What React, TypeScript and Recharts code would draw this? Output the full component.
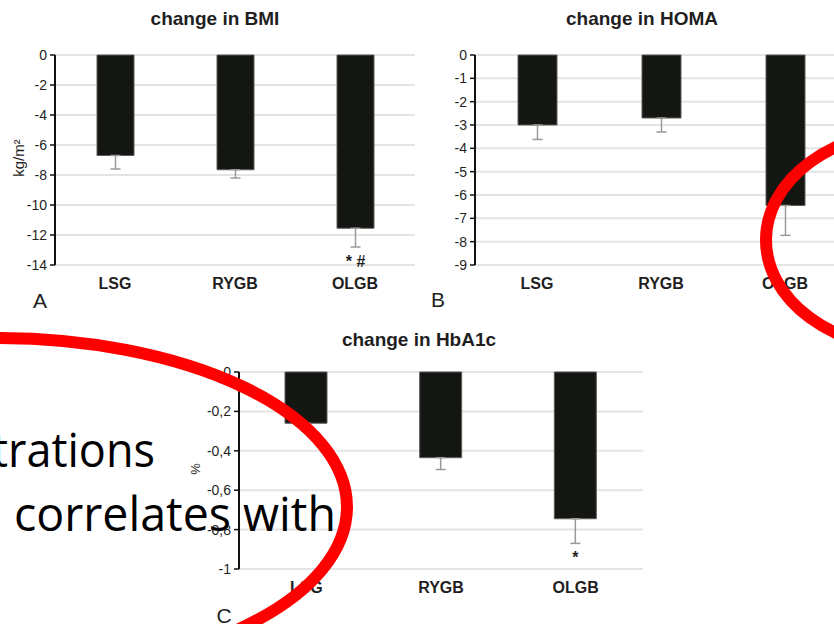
import { Bar, BarChart, CartesianGrid, ErrorBar, LabelList, XAxis, YAxis } from 'recharts';

const CATEGORIES = ['LSG', 'RYGB', 'OLGB'];

// change in BMI (kg/m2)
const BMI_MEAN = [-6.7, -7.65, -11.55];
const BMI_SD = [0.9, 0.55, 1.25];
const BMI_MARKS = ['', '', '* #'];
const BMI_TICKS = [0, -2, -4, -6, -8, -10, -12, -14];

// change in HOMA
const HOMA_MEAN = [-3.0, -2.7, -6.45];
const HOMA_SD = [0.62, 0.6, 1.28];
const HOMA_MARKS = ['', '', ''];
const HOMA_TICKS = [0, -1, -2, -3, -4, -5, -6, -7, -8, -9];

// change in HbA1c (%)
const HBA1C_MEAN = [-0.26, -0.435, -0.745];
const HBA1C_SD = [0.04, 0.06, 0.125];
const HBA1C_MARKS = ['', '', '*'];
const HBA1C_TICKS = [0, -0.2, -0.4, -0.6, -0.8, -1];

const FONT = '"Liberation Sans", Arial, sans-serif';
const INK = '#1f1f1f';

interface PanelProps {
  left: number;
  top: number;
  width: number;
  height: number;
  margin: { top: number; right: number; bottom: number; left: number };
  mean: number[];
  sd: number[];
  marks: string[];
  ticks: number[];
  barSize: number;
  comma?: boolean;
}

function Panel({ left, top, width, height, margin, mean, sd, marks, ticks, barSize, comma }: PanelProps) {
  const data = CATEGORIES.map((name, i) => ({ name, value: mean[i], err: [sd[i], 0], mark: marks[i] }));

  // significance marks sit just under the end of the error bar
  const renderMark = (props: any) => {
    const i = props.index;
    const text = marks[i];
    if (!text) return null;
    const vb = props.viewBox ?? props;
    const y0 = Math.min(vb.y, vb.y + vb.height);
    const y1 = Math.max(vb.y, vb.y + vb.height);
    const pxPerUnit = (y1 - y0) / Math.abs(mean[i]);
    const yErr = y1 + sd[i] * pxPerUnit;
    return (
      <text
        x={vb.x + vb.width / 2}
        y={yErr + 20}
        textAnchor="middle"
        fontFamily={FONT}
        fontSize={16}
        fontWeight="bold"
        fill={INK}
      >
        {text}
      </text>
    );
  };

  return (
    <div style={{ position: 'absolute', left, top }}>
      <BarChart width={width} height={height} data={data} margin={margin}>
        <CartesianGrid vertical={false} stroke="#e4e4e4" strokeWidth={2} />
        <XAxis
          dataKey="name"
          height={30}
          axisLine={false}
          tickLine={false}
          tickMargin={7}
          tick={{ fill: INK, fontSize: 16, fontWeight: 'bold', fontFamily: FONT }}
        />
        <YAxis
          width={55}
          domain={[ticks[ticks.length - 1], 0]}
          ticks={ticks}
          interval={0}
          tickSize={5}
          tickMargin={3}
          axisLine={{ stroke: '#111', strokeWidth: 2 }}
          tickLine={{ stroke: '#111', strokeWidth: 1.5 }}
          tick={{ fill: INK, fontSize: 14, fontFamily: FONT }}
          tickFormatter={(v: number) => (comma ? String(v).replace('.', ',') : String(v))}
        />
        <Bar dataKey="value" barSize={barSize} fill="#141612" stroke="#5c5c5c" strokeWidth={1} isAnimationActive={false}>
          <ErrorBar dataKey="err" direction="y" stroke="#9a9a9a" strokeWidth={1.5} width={5} isAnimationActive={false} />
          <LabelList dataKey="mark" content={renderMark} />
        </Bar>
      </BarChart>
    </div>
  );
}

export default function App() {
  return (
    <div
      style={{
        position: 'absolute',
        left: 0,
        top: 0,
        width: 834,
        height: 624,
        overflow: 'hidden',
        background: '#fff',
      }}
    >
      <Panel
        left={0}
        top={0}
        width={420}
        height={310}
        margin={{ top: 55, right: 5, bottom: 15, left: 0 }}
        mean={BMI_MEAN}
        sd={BMI_SD}
        marks={BMI_MARKS}
        ticks={BMI_TICKS}
        barSize={37}
      />
      <Panel
        left={420}
        top={0}
        width={430}
        height={310}
        margin={{ top: 55, right: 3, bottom: 15, left: 0 }}
        mean={HOMA_MEAN}
        sd={HOMA_SD}
        marks={HOMA_MARKS}
        ticks={HOMA_TICKS}
        barSize={39}
      />
      <Panel
        left={184}
        top={320}
        width={460}
        height={294}
        margin={{ top: 52, right: 1, bottom: 15, left: 0 }}
        mean={HBA1C_MEAN}
        sd={HBA1C_SD}
        marks={HBA1C_MARKS}
        ticks={HBA1C_TICKS}
        barSize={42}
        comma
      />

      <svg width={834} height={624} style={{ position: 'absolute', left: 0, top: 0, pointerEvents: 'none' }}>
        <g fontFamily={FONT} fill={INK} textAnchor="middle">
          <text x={215} y={25} fontSize={19} fontWeight="bold">change in BMI</text>
          <text x={642} y={25} fontSize={19} fontWeight="bold">change in HOMA</text>
          <text x={419} y={346} fontSize={19} fontWeight="bold">change in HbA1c</text>
          <text x={40} y={308} fontSize={21}>A</text>
          <text x={438} y={307} fontSize={21}>B</text>
          <text x={224} y={623} fontSize={21}>C</text>
          <text transform="translate(24 158) rotate(-90)" fontSize={15}>kg/m²</text>
          <text transform="translate(200 469) rotate(-90)" fontSize={13}>%</text>
        </g>

        {/* slide text behind the annotation */}
        <g fontFamily='"Open Sans", sans-serif' fill="#000" fontSize={48}>
          <text x={-8} y={467} textLength={163} lengthAdjust="spacingAndGlyphs">trations</text>
          <text x={14} y={531} textLength={322} lengthAdjust="spacingAndGlyphs">correlates with</text>
        </g>

        <ellipse cx={-3} cy={507} rx={350} ry={169} fill="none" stroke="#ff0000" strokeWidth={12} />
        <ellipse cx={916} cy={240} rx={150} ry={110} fill="none" stroke="#ff0000" strokeWidth={12} />
      </svg>
    </div>
  );
}
